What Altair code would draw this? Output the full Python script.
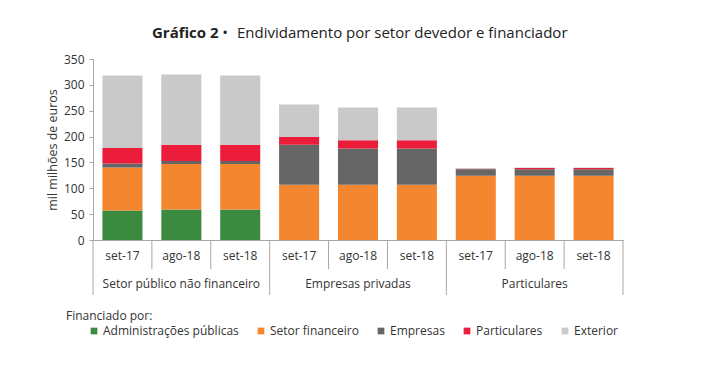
import altair as alt
import pandas as pd

groups = ["Setor público não financeiro", "Empresas privadas", "Particulares"]
periods = ["set-17", "ago-18", "set-18"]
series = ["Administrações públicas", "Setor financeiro", "Empresas", "Particulares", "Exterior"]
colors = ["#3c8a3f", "#f4862f", "#666666", "#ec1d3b", "#c9c9c9"]

adm = [57, 59, 59, 0, 0, 0, 0, 0, 0]
sf = [83, 88, 88, 107, 107, 107, 124, 124, 124]
emp = [8, 6, 6, 77, 70, 70, 13, 13, 13]
part = [30, 31, 31, 15, 16, 16, 0.5, 2, 2]
ext = [140, 136, 134, 63, 63, 63, 1.5, 1, 1]

FONT = "Open Sans"
TXT = "#333333"
W, H = 530, 181

# bars table
rows = []
vals = [adm, sf, emp, part, ext]
for i in range(9):
    base = 0.0
    for k, s in enumerate(series):
        v = vals[k][i]
        rows.append({"slot": i, "x0": i + 0.16, "x1": i + 0.84, "serie": s,
                     "ord": k, "y0": base, "y1": base + v, "valor": v})
        base += v
bars_df = pd.DataFrame(rows)

cats_df = pd.DataFrame({"xc": [i + 0.5 for i in range(9)],
                        "lab": [periods[i % 3] for i in range(9)]})
grp_df = pd.DataFrame({"xc": [3 * g + 1.5 for g in range(3)], "lab": groups})
short_df = pd.DataFrame({"xb": [1, 2, 4, 5, 7, 8]})
long_df = pd.DataFrame({"xb": [0, 3, 6, 9]})

xscale = alt.Scale(domain=[0, 9], nice=False, zero=False)

bars = alt.Chart(bars_df).mark_bar().encode(
    x=alt.X("x0:Q", scale=xscale,
            axis=alt.Axis(labels=False, ticks=False, grid=False, title=None,
                          domainColor="#a6a6a6")),
    x2="x1:Q",
    y=alt.Y("y0:Q", scale=alt.Scale(domain=[0, 350], nice=False),
            axis=alt.Axis(values=list(range(0, 351, 50)), grid=False,
                          title="mil milhões de euros", titleFont=FONT,
                          titleFontSize=12.5, titleFontWeight="normal",
                          titleColor=TXT, labelFont=FONT, labelFontSize=12,
                          labelColor=TXT, domainColor="#a6a6a6",
                          tickColor="#a6a6a6", tickSize=4, labelPadding=5,
                          titlePadding=4)),
    y2="y1:Q",
    color=alt.Color("serie:N", scale=alt.Scale(domain=series, range=colors),
                    legend=alt.Legend(title=None, orient="none", direction="horizontal",
                                      legendX=-5, legendY=266, symbolType="square",
                                      symbolSize=45, symbolStrokeWidth=0,
                                      labelFont=FONT, labelFontSize=12,
                                      labelColor=TXT, columnPadding=16,
                                      labelOffset=3)),
    order=alt.Order("ord:Q"),
)

short_rules = alt.Chart(short_df).mark_rule(color="#a6a6a6", strokeWidth=1).encode(
    x=alt.X("xb:Q", scale=xscale), y=alt.value(H), y2=alt.value(H + 29))
long_rules = alt.Chart(long_df).mark_rule(color="#a6a6a6", strokeWidth=1).encode(
    x=alt.X("xb:Q", scale=xscale), y=alt.value(H), y2=alt.value(H + 55))

cat_text = alt.Chart(cats_df).mark_text(font=FONT, fontSize=12, color=TXT).encode(
    x=alt.X("xc:Q", scale=xscale), y=alt.value(H + 16), text="lab:N")
grp_text = alt.Chart(grp_df).mark_text(font=FONT, fontSize=12, color=TXT).encode(
    x=alt.X("xc:Q", scale=xscale), y=alt.value(H + 44), text="lab:N")

one = pd.DataFrame({"t": ["Gráfico 2"]})
t_bold = alt.Chart(one).mark_text(font=FONT, fontSize=15, fontWeight="bold",
                                  color="#222222", align="left").encode(
    x=alt.value(59), y=alt.value(-26), text="t:N")
bullet = pd.DataFrame({"t": ["•"]})
t_bul = alt.Chart(bullet).mark_text(font=FONT, fontSize=15, color="#222222",
                                    align="center").encode(
    x=alt.value(132), y=alt.value(-26), text="t:N")
two = pd.DataFrame({"t": ["Endividamento  por setor devedor e financiador"]})
t_norm = alt.Chart(two).mark_text(font=FONT, fontSize=15, color="#222222",
                                  align="left").encode(
    x=alt.value(144), y=alt.value(-26), text="t:N")
three = pd.DataFrame({"t": ["Financiado por:"]})
fin = alt.Chart(three).mark_text(font=FONT, fontSize=12, color=TXT,
                                 align="left").encode(
    x=alt.value(-27), y=alt.value(257), text="t:N")

chart = alt.layer(bars, short_rules, long_rules, cat_text, grp_text,
                  t_bold, t_bul, t_norm, fin).properties(
    width=W, height=H,
    autosize=alt.AutoSizeParams(type="none"),
    padding={"left": 85, "top": 51, "right": 75, "bottom": 120},
).configure_view(stroke=None)

chart.save("out.html", embed_options={"renderer": "svg", "actions": False})
